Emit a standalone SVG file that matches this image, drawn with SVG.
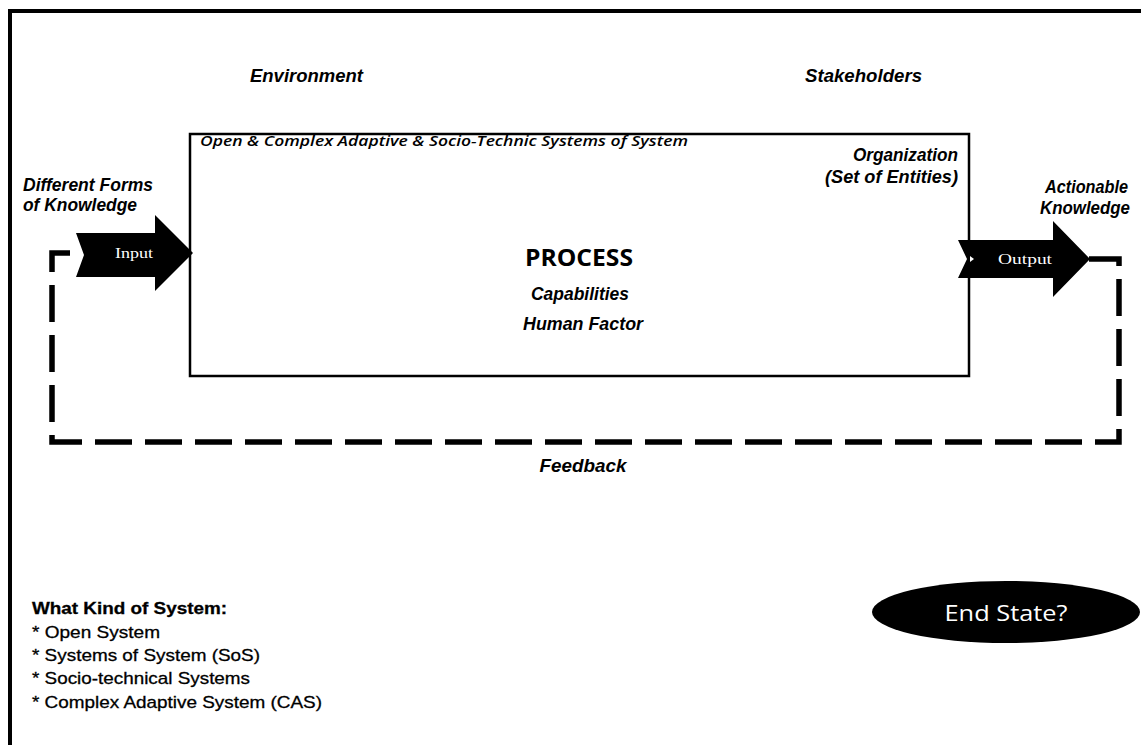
<svg xmlns="http://www.w3.org/2000/svg" width="1141" height="745" viewBox="0 0 1141 745">
<style>
.lbl{font-family:"Liberation Sans",Arial,sans-serif;font-weight:bold;font-style:italic;font-size:18.5px;fill:#000}
.cal{font-family:"Open Sans","Noto Sans",sans-serif;}
.list{font-family:"Liberation Sans",Arial,sans-serif;font-size:17px;fill:#000;stroke:#000;stroke-width:0.3}
.arrow{fill:#000}
.atext{font-family:"Liberation Serif",serif;font-size:14px;fill:#fff}
.feedback{fill:none;stroke:#000;stroke-width:5.5;stroke-dasharray:37 13}
</style>
<rect x="0" y="0" width="1141" height="745" fill="#fff"/>
<g id="frame">
<path d="M10 745 L10 11 L1141 11" fill="none" stroke="#000" stroke-width="4"/>
</g>
<g id="environment">
<text class="lbl" x="306.5" y="82" font-size="19" text-anchor="middle" textLength="113" lengthAdjust="spacingAndGlyphs">Environment</text>
</g>
<g id="stakeholders">
<text class="lbl" x="863.5" y="82" font-size="19" text-anchor="middle" textLength="117" lengthAdjust="spacingAndGlyphs">Stakeholders</text>
</g>
<g id="connectors">
<path class="feedback" d="M1089 259 L1119 259 L1119 442 L52 442 L52 253 L80 253"/>
</g>
<g id="system">
<rect x="190" y="134" width="779" height="242" fill="none" stroke="#000" stroke-width="2.5"/>
<text class="cal" x="200" y="146" font-size="14.5" font-style="italic" font-weight="600" textLength="488" lengthAdjust="spacingAndGlyphs">Open &amp; Complex Adaptive &amp; Socio-Technic  Systems of System</text>
<text class="lbl" x="958" y="161" text-anchor="end" textLength="105" lengthAdjust="spacingAndGlyphs">Organization</text>
<text class="lbl" x="958" y="183" text-anchor="end" textLength="133" lengthAdjust="spacingAndGlyphs">(Set of Entities)</text>
<text class="cal" x="579" y="266" font-size="23" font-weight="bold" text-anchor="middle" textLength="108" lengthAdjust="spacingAndGlyphs">PROCESS</text>
<text class="lbl" x="580" y="300" text-anchor="middle" textLength="98" lengthAdjust="spacingAndGlyphs">Capabilities</text>
<text class="lbl" x="583" y="330" text-anchor="middle" textLength="120" lengthAdjust="spacingAndGlyphs">Human Factor</text>
</g>
<g id="input">
<text class="lbl" x="23" y="191" textLength="130" lengthAdjust="spacingAndGlyphs">Different Forms</text>
<text class="lbl" x="23" y="211" textLength="114" lengthAdjust="spacingAndGlyphs">of Knowledge</text>
<polygon class="arrow" points="76,233 155,233 155,215 193,253 155,291 155,277 76,277 84,255"/>
<text class="atext" x="134" y="258" text-anchor="middle" textLength="38" lengthAdjust="spacingAndGlyphs">Input</text>
</g>
<g id="output">
<text class="lbl" x="1128" y="193" text-anchor="end" textLength="83" lengthAdjust="spacingAndGlyphs">Actionable</text>
<text class="lbl" x="1130" y="214" text-anchor="end" textLength="90" lengthAdjust="spacingAndGlyphs">Knowledge</text>
<polygon class="arrow" points="958,240 1053,240 1053,221 1090,259 1053,297 1053,278 958,278 967,259"/>
<polygon points="970,256 974,259 970,262" fill="#fff"/>
<text class="atext" x="1025" y="264" text-anchor="middle" textLength="54" lengthAdjust="spacingAndGlyphs">Output</text>
</g>
<g id="feedback-label">
<text class="lbl" x="583" y="472" font-size="19" text-anchor="middle" textLength="87" lengthAdjust="spacingAndGlyphs">Feedback</text>
</g>
<g id="system-kinds">
<text class="list" x="32" y="614" font-weight="bold" textLength="195" lengthAdjust="spacingAndGlyphs">What Kind of System:</text>
<text class="list" x="32" y="638" textLength="128" lengthAdjust="spacingAndGlyphs">* Open System</text>
<text class="list" x="32" y="661" textLength="228" lengthAdjust="spacingAndGlyphs">* Systems of System (SoS)</text>
<text class="list" x="32" y="684" textLength="218" lengthAdjust="spacingAndGlyphs">* Socio-technical Systems</text>
<text class="list" x="32" y="708" textLength="290" lengthAdjust="spacingAndGlyphs">* Complex Adaptive System (CAS)</text>
</g>
<g id="end-state">
<ellipse cx="1006" cy="612" rx="134" ry="31" fill="#000"/>
<text class="cal" x="1006" y="621" font-size="21" fill="#fff" text-anchor="middle" textLength="123" lengthAdjust="spacingAndGlyphs">End State?</text>
</g>
</svg>
